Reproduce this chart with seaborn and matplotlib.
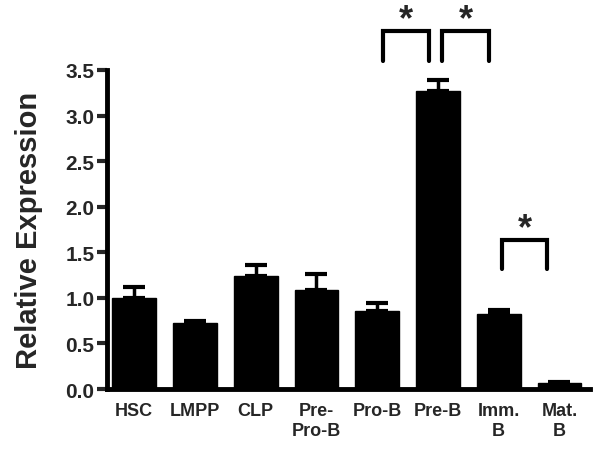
import numpy as np
import pandas as pd
import seaborn as sns
import matplotlib.pyplot as plt

# cell stages and relative expression (mean, SEM)
stages = ["HSC", "LMPP", "CLP", "Pre-\nPro-B", "Pro-B", "Pre-B", "Imm.\nB", "Mat.\nB"]
expression = [1.00, 0.72, 1.24, 1.09, 0.86, 3.27, 0.82, 0.07]
sem = [0.12, 0.03, 0.12, 0.17, 0.08, 0.12, 0.05, 0.01]

# significance brackets: (x start, x end, y top, y bottom)
brackets = [(4.1, 4.85, 3.93, 3.60), (5.07, 5.84, 3.93, 3.60), (6.05, 6.8, 1.64, 1.32)]

df = pd.DataFrame({"Stage": stages, "Expression": expression})

sns.set_style("ticks")
plt.rcParams["font.family"] = ["Liberation Sans", "DejaVu Sans"]
plt.rcParams["font.weight"] = "bold"

fig = plt.figure(figsize=(6, 4.52), dpi=100)
ax = fig.add_axes([0.178, 0.137, 0.805, 0.706])

sns.barplot(data=df, x="Stage", y="Expression", color="black", width=0.72,
            errorbar=None, ax=ax, edgecolor="black")

# one-sided error bars
xpos = np.arange(len(stages))
ax.errorbar(xpos, expression, yerr=[np.zeros(len(sem)), sem], fmt="none",
            ecolor="black", elinewidth=2.5, capsize=8, capthick=3, zorder=3)

# significance brackets with stars
for x0, x1, ytop, ybot in brackets:
    ax.plot([x0, x0, x1, x1], [ybot, ytop, ytop, ybot], color="black", lw=3,
            clip_on=False, solid_joinstyle="miter")
    ax.text((x0 + x1) / 2, ytop + 0.02, "*", ha="center", va="baseline",
            fontsize=26, fontweight="bold", clip_on=False)

ax.set_ylim(0, 3.5)
ax.set_xlim(-0.45, 7.5)
ax.set_yticks(np.arange(0, 3.51, 0.5))
ax.set_yticklabels([f"{v:.1f}" for v in np.arange(0, 3.51, 0.5)], fontsize=15, fontweight="bold")
ax.set_xticks(xpos)
ax.set_xticklabels(stages, fontsize=13, fontweight="bold", linespacing=1.25, va="top")
ax.tick_params(axis="x", length=0, pad=9)
ax.tick_params(axis="y", length=7, width=3, pad=2)

ax.set_xlabel("")
ax.set_ylabel("Relative Expression", fontsize=21, fontweight="bold", labelpad=16)

for side in ["top", "right"]:
    ax.spines[side].set_visible(False)
for side in ["left", "bottom"]:
    ax.spines[side].set_linewidth(3.5)
    ax.spines[side].set_color("black")

fig.savefig("out.png", dpi=100)
plt.close()
